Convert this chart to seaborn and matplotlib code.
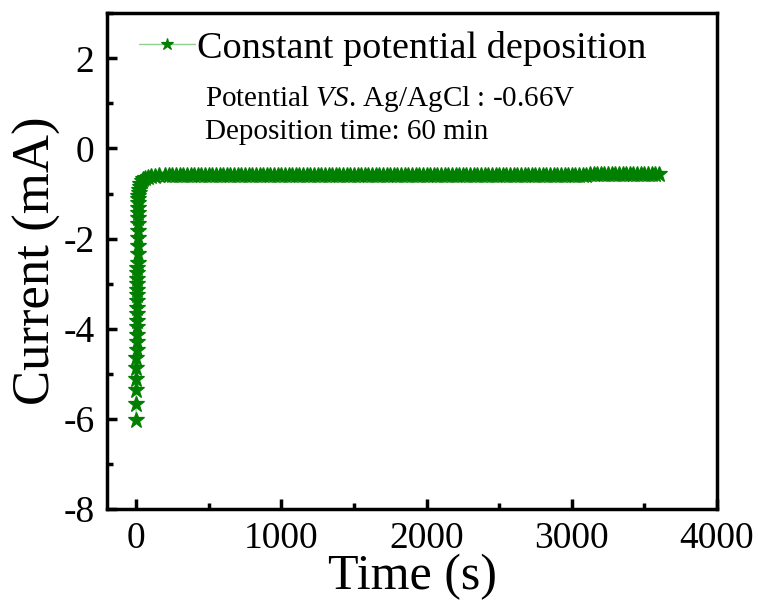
import numpy as np
import pandas as pd
import matplotlib
matplotlib.use("Agg")
import matplotlib.pyplot as plt
import seaborn as sns
from matplotlib.ticker import MultipleLocator

# ---- data ----
time_s = [0, 0.5, 1, 1.5, 2, 2.5, 3, 3.5, 4, 4.5, 5, 5.5, 6, 6.5, 7, 7.5, 8, 8.5, 9, 9.5,
          10, 10.5, 11, 11.5, 12, 12.5, 13, 13.5, 14, 14.5, 15,
          16, 18, 20, 25, 30, 40, 50, 60, 80, 100, 130, 160, 200,
          225, 250, 275, 300, 325, 350, 375, 400, 425, 450, 475, 500,
          525, 550, 575, 600, 625, 650, 675, 700, 725, 750, 775, 800,
          825, 850, 875, 900, 925, 950, 975, 1000, 1025, 1050, 1075, 1100,
          1125, 1150, 1175, 1200, 1225, 1250, 1275, 1300, 1325, 1350, 1375, 1400,
          1425, 1450, 1475, 1500, 1525, 1550, 1575, 1600, 1625, 1650, 1675, 1700,
          1725, 1750, 1775, 1800, 1825, 1850, 1875, 1900, 1925, 1950, 1975, 2000,
          2025, 2050, 2075, 2100, 2125, 2150, 2175, 2200, 2225, 2250, 2275, 2300,
          2325, 2350, 2375, 2400, 2425, 2450, 2475, 2500, 2525, 2550, 2575, 2600,
          2625, 2650, 2675, 2700, 2725, 2750, 2775, 2800, 2825, 2850, 2875, 2900,
          2925, 2950, 2975, 3000, 3025, 3050, 3075, 3100, 3125, 3150, 3175, 3200,
          3225, 3250, 3275, 3300, 3325, 3350, 3375, 3400, 3425, 3450, 3475, 3500,
          3525, 3550, 3575, 3600]
current_ma = [-6.03, -5.68, -5.37, -5.12, -4.88, -4.66, -4.47, -4.30, -4.13, -3.97,
              -3.82, -3.67, -3.53, -3.39, -3.26, -3.13, -3.01, -2.89, -2.77, -2.66,
              -2.55, -2.35, -2.16, -1.99, -1.83, -1.68, -1.55, -1.43, -1.32, -1.22, -1.13,
              -1.05, -0.98, -0.93, -0.85, -0.79, -0.72, -0.68, -0.66, -0.64, -0.62,
              -0.61, -0.60, -0.60,
              -0.60, -0.60, -0.60, -0.60, -0.60, -0.59, -0.59, -0.59, -0.59, -0.59, -0.59, -0.59,
              -0.59, -0.59, -0.59, -0.59, -0.59, -0.59, -0.59, -0.59, -0.59, -0.59, -0.59, -0.59,
              -0.59, -0.59, -0.59, -0.58, -0.58, -0.58, -0.58, -0.58, -0.58, -0.58, -0.58, -0.58,
              -0.58, -0.58, -0.58, -0.58, -0.58, -0.58, -0.58, -0.58, -0.58, -0.58, -0.58, -0.58,
              -0.58, -0.58, -0.58, -0.58, -0.58, -0.58, -0.58, -0.58, -0.58, -0.58, -0.58, -0.58,
              -0.58, -0.58, -0.58, -0.58, -0.58, -0.58, -0.58, -0.58, -0.58, -0.58, -0.58, -0.58,
              -0.58, -0.58, -0.58, -0.58, -0.58, -0.58, -0.58, -0.58, -0.58, -0.58, -0.58, -0.58,
              -0.58, -0.58, -0.58, -0.58, -0.58, -0.58, -0.58, -0.58, -0.58, -0.58, -0.58, -0.58,
              -0.58, -0.58, -0.58, -0.58, -0.58, -0.58, -0.58, -0.58, -0.58, -0.58, -0.58, -0.58,
              -0.58, -0.58, -0.58, -0.58, -0.58, -0.58, -0.58, -0.58, -0.57, -0.57, -0.57, -0.57,
              -0.57, -0.57, -0.57, -0.57, -0.57, -0.57, -0.57, -0.57, -0.57, -0.57, -0.57, -0.57,
              -0.57, -0.57, -0.57, -0.57]
series_label = "Constant potential deposition"
note_1 = r"Potential $\mathit{VS}$. Ag/AgCl : -0.66V"
note_2 = "Deposition time: 60 min"
x_label = "Time (s)"
y_label = "Current (mA)"

sns.set_theme(style="ticks")
plt.rcParams["font.family"] = ["Liberation Serif", "DejaVu Serif"]
plt.rcParams["mathtext.fontset"] = "custom"
plt.rcParams["mathtext.rm"] = "Liberation Serif"
plt.rcParams["mathtext.it"] = "Liberation Serif:italic"
plt.rcParams["axes.unicode_minus"] = False
plt.rcParams["text.color"] = "black"
plt.rcParams["axes.labelcolor"] = "black"
plt.rcParams["xtick.color"] = "black"
plt.rcParams["ytick.color"] = "black"

df = pd.DataFrame({x_label: time_s, y_label: current_ma})

fig = plt.figure(figsize=(7.58, 6.01), dpi=100)
ax = fig.add_axes([0.1412, 0.153, 0.8047, 0.825])

dark = "#007f00"
sns.lineplot(data=df, x=x_label, y=y_label, ax=ax, color="#8fd08f", linewidth=1,
             marker="*", markersize=12, markerfacecolor=dark, markeredgecolor=dark,
             markeredgewidth=0.9, label=series_label, sort=False, estimator=None)

ax.set_xlim(-200, 4000)
ax.set_ylim(-8, 3)
ax.xaxis.set_major_locator(MultipleLocator(1000))
ax.xaxis.set_minor_locator(MultipleLocator(500))
ax.yaxis.set_major_locator(MultipleLocator(2))
ax.yaxis.set_minor_locator(MultipleLocator(1))

for s in ax.spines.values():
    s.set_linewidth(2.5)
    s.set_color("black")
ax.tick_params(which="major", direction="in", length=7, width=2.5, labelsize=27,
               pad=9, top=False, right=False, colors="black")
ax.tick_params(which="minor", direction="in", length=4, width=2.5,
               top=False, right=False, colors="black")

ax.set_xlabel(x_label, fontsize=36, labelpad=-2, color="black")
ax.set_ylabel(y_label, fontsize=38, labelpad=2, color="black")

leg = ax.legend(loc="upper left", bbox_to_anchor=(0.052, 0.965), frameon=False,
                fontsize=27.5, handlelength=1.48, handletextpad=0.04, borderpad=0,
                borderaxespad=0)
for h in leg.legend_handles:
    h.set_markersize(9)
for t in leg.get_texts():
    t.set_color("black")

ax.text(0.161, 0.8125, note_1, transform=ax.transAxes, fontsize=21, ha="left",
        va="baseline", color="black")
ax.text(0.161, 0.746, note_2, transform=ax.transAxes, fontsize=21, ha="left",
        va="baseline", color="black")

fig.savefig("out.png", dpi=100)
